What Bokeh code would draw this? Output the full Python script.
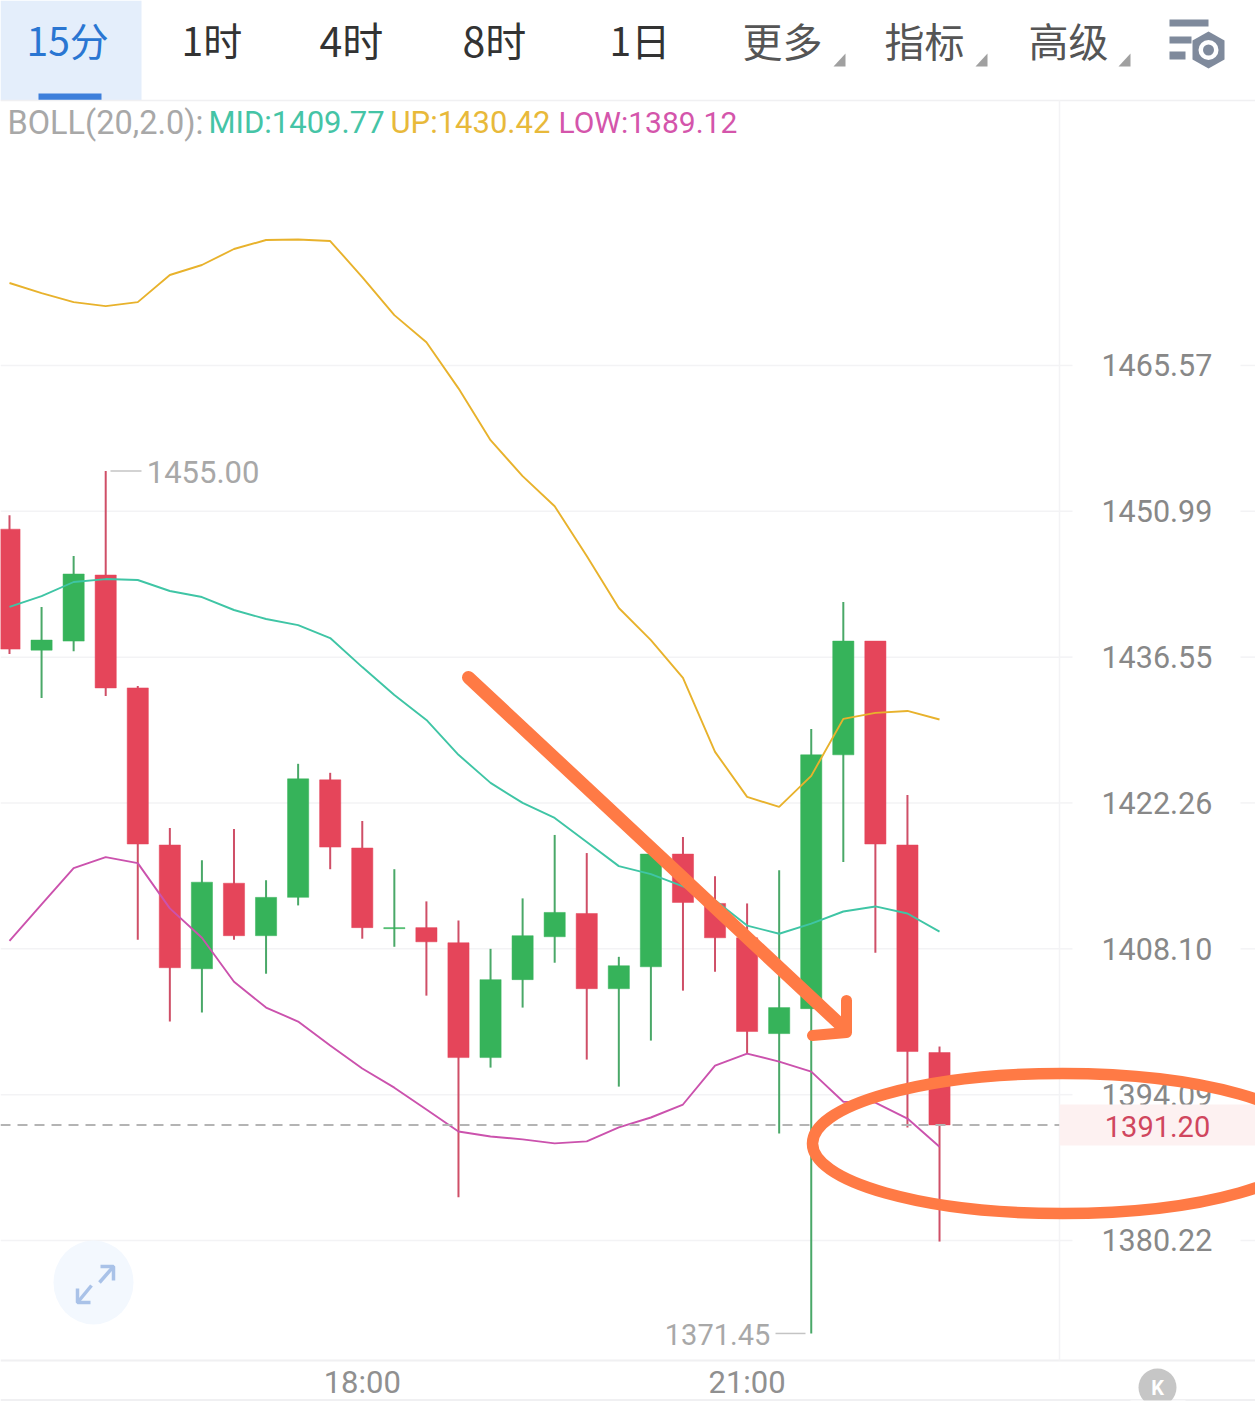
from bokeh.embed import file_html
from bokeh.resources import INLINE
from bokeh.plotting import figure
from bokeh.models import Range1d, LinearScale, FixedTicker, NumeralTickFormatter
from bokeh.core.properties import value

opens = [1449.21,1437.24,1438.13,1444.66,1433.52,1418.16,1406.18,1414.45,1409.37,1413.08,1424.51,1417.87,1410.05,1410.15,1408.69,1397.64,1405.13,1409.27,1411.52,1404.26,1406.37,1417.28,1412.49,1409.17,1399.94,1402.34,1426.96,1438.13,1418.16,1398.12]
closes = [1437.34,1438.23,1444.76,1433.52,1418.26,1406.28,1414.55,1409.37,1413.08,1424.61,1417.96,1410.15,1410.15,1408.78,1397.64,1405.13,1409.37,1411.62,1404.26,1406.47,1417.28,1412.59,1409.17,1400.14,1402.44,1426.96,1438.13,1418.26,1398.22,1391.20]
highs = [1450.59,1441.50,1446.54,1455.00,1433.71,1419.82,1416.69,1419.72,1414.74,1426.08,1425.20,1420.50,1415.81,1412.69,1410.83,1408.10,1412.98,1419.14,1417.38,1407.33,1417.38,1418.94,1415.13,1412.49,1415.72,1429.50,1441.99,1438.13,1423.04,1398.70]
lows = [1436.85,1432.54,1437.14,1432.73,1408.98,1401.10,1401.96,1408.98,1405.70,1412.30,1415.81,1409.08,1408.30,1403.59,1384.31,1396.68,1402.44,1406.76,1397.45,1394.86,1399.27,1404.07,1405.89,1398.02,1390.39,1371.45,1416.50,1407.72,1390.96,1380.12]
boll_up = [1473.88,1472.86,1471.95,1471.55,1471.95,1474.69,1475.70,1477.32,1478.23,1478.28,1478.13,1474.48,1470.64,1467.90,1463.27,1458.08,1454.49,1451.49,1446.54,1441.40,1438.23,1434.50,1427.25,1422.85,1421.87,1424.90,1430.48,1431.07,1431.26,1430.42]
boll_mid = [1441.50,1442.58,1443.97,1444.26,1444.17,1443.08,1442.48,1441.20,1440.31,1439.71,1438.43,1435.57,1432.83,1430.38,1426.96,1424.22,1422.26,1420.80,1418.45,1416.11,1415.33,1414.15,1412.79,1410.35,1409.56,1410.54,1411.71,1412.20,1411.52,1409.77]
boll_low = [1408.88,1412.40,1415.91,1416.99,1416.40,1412.01,1409.17,1404.93,1402.44,1401.10,1398.79,1396.59,1394.76,1392.67,1390.58,1390.10,1389.82,1389.44,1389.63,1390.96,1391.91,1393.15,1396.87,1398.02,1397.25,1396.29,1393.42,1393.33,1391.81,1389.12]
price_ticks = [1465.57,1450.99,1436.55,1422.26,1408.10,1394.09,1380.22]
time_ticks = {11: "18:00", 23: "21:00"}
last_price = 1391.20
period_tabs = ["15分","1时","4时","8时","1日"]
menu_tabs = ["更多","指标","高级"]

RED, GREEN = "#e5455a", "#36b35a"
idx = list(range(len(opens)))
red_i = [i for i in idx if closes[i] < opens[i]]
green_i = [i for i in idx if closes[i] >= opens[i]]

p = figure(width=1255, height=1411, output_backend="svg", toolbar_location=None,
           x_range=Range1d(-0.2806, 38.853), y_range=Range1d(1364.13, 1502.71),
           y_axis_type="log", y_axis_location="right", min_border=0,
           outline_line_color=None, background_fill_color="white", border_fill_color="white")
p.grid.visible = False
p.extra_x_ranges["px"] = Range1d(0, 1255)
p.extra_y_ranges["px"] = Range1d(1411, 0)
p.extra_x_scales["px"] = LinearScale()
p.extra_y_scales["px"] = LinearScale()

FONT = value("Roboto")
CJK = value("Noto Sans CJK SC")

def label(x, y, s, color, size, font=FONT, align="left", level="glyph", style="normal"):
    return p.text(x=[x], y=[y], text=[s], text_color=color, text_font=font, text_font_size=size,
                  text_font_style=style, text_align=align, text_baseline="middle",
                  x_range_name="px", y_range_name="px", level=level)

def shape_px(xs, ys, color):
    return p.patch(xs, ys, fill_color=color, line_color=None, x_range_name="px", y_range_name="px")

# panels and grid
p.quad(left=[0], right=[141], top=[0], bottom=[100], fill_color="#e4eefb", line_color=None,
       x_range_name="px", y_range_name="px")
p.quad(left=[38], right=[101], top=[93], bottom=[100], fill_color="#3d7fdb", line_color=None,
       x_range_name="px", y_range_name="px")
p.segment(x0=[0], x1=[1255], y0=[100], y1=[100], line_color="#f0f0f2", line_width=1.5, x_range_name="px", y_range_name="px")
p.segment(x0=[0], x1=[1255], y0=[1360], y1=[1360], line_color="#f0f0f2", line_width=2, x_range_name="px", y_range_name="px")
p.segment(x0=[1059], x1=[1059], y0=[100], y1=[1360], line_color="#f3f3f5", line_width=1.5, x_range_name="px", y_range_name="px")
p.segment(x0=[0], x1=[1255], y0=[1399.5], y1=[1399.5], line_color="#f0f0f2", line_width=2, x_range_name="px", y_range_name="px")
for t in price_ticks:
    p.segment(x0=[0, 1059, 1240], x1=[1059, 1072, 1255], y0=[t]*3, y1=[t]*3, line_color="#f3f3f5",
              line_width=1.5, x_range_name="px")

# candles
p.segment(red_i, [highs[i] for i in red_i], red_i, [lows[i] for i in red_i], line_color="#cf4f67", line_width=2)
p.segment(green_i, [highs[i] for i in green_i], green_i, [lows[i] for i in green_i], line_color="#4aa868", line_width=2)
p.vbar(red_i, width=0.66, top=[opens[i] for i in red_i], bottom=[closes[i] for i in red_i], fill_color=RED, line_color=RED, line_width=0.5)
p.vbar(green_i, width=0.66, top=[closes[i] for i in green_i], bottom=[opens[i] for i in green_i], fill_color=GREEN, line_color=GREEN, line_width=0.5)

# Bollinger lines
p.line(idx, boll_up, line_color="#e8b22c", line_width=1.9)
p.line(idx, boll_mid, line_color="#3fc5a5", line_width=1.9)
p.line(idx, boll_low, line_color="#cb52ad", line_width=1.9)

# last price
p.segment(x0=[0], x1=[1059], y0=[last_price], y1=[last_price], line_color="#b4b4b4", line_width=2,
          line_dash="10 7", x_range_name="px")

# extreme labels
p.segment(x0=[110], x1=[141], y0=[max(highs)], y1=[max(highs)], line_color="#c4c4c4", line_width=1.5, x_range_name="px")
p.segment(x0=[775], x1=[805], y0=[min(lows)], y1=[min(lows)], line_color="#c4c4c4", line_width=1.5, x_range_name="px")
p.text(x=[highs.index(max(highs))], y=[max(highs)], text=["%.2f" % max(highs)], x_offset=41, y_offset=1,
       text_color="#a8a8a8", text_font=FONT, text_font_size="31px", text_baseline="middle")
p.text(x=[lows.index(min(lows))], y=[min(lows)], text=["%.2f" % min(lows)], x_offset=-41, y_offset=1,
       text_color="#a8a8a8", text_font=FONT, text_font_size="29px", text_baseline="middle", text_align="right")

# axes
yax = p.yaxis[0]
yax.fixed_location = 32.74
yax.ticker = FixedTicker(ticks=price_ticks)
yax.formatter = NumeralTickFormatter(format="0.00")
yax.major_tick_line_color = None
yax.minor_tick_line_color = None
yax.axis_line_color = None
yax.major_label_standoff = 36
yax.major_label_text_color = "#888888"
yax.major_label_text_font = "Roboto"
yax.major_label_text_font_size = "30.5px"

xax = p.xaxis[0]
xax.fixed_location = 1369.75
xax.ticker = FixedTicker(ticks=list(time_ticks))
xax.major_label_overrides = time_ticks
xax.major_tick_line_color = None
xax.minor_tick_line_color = None
xax.axis_line_color = None
xax.major_label_standoff = 6
xax.major_label_text_color = "#909090"
xax.major_label_text_font = "Roboto"
xax.major_label_text_font_size = "31px"

# current price tag sits over the axis labels
p.quad(left=[1059], right=[1255], top=[1104], bottom=[1145], fill_color="#fdf1f1", line_color=None,
       x_range_name="px", y_range_name="px", level="overlay")
label(1157, 1126, "%.2f" % last_price, "#d0465e", "29px", align="center", level="overlay")

# header texts
tab_x = [26, 181, 319, 462, 609]
tab_c = ["#2a76d2", "#333333", "#333333", "#333333", "#333333"]
tab_f = ["39px", "39px", "41px", "41px", "39px"]
for s, x, c, f in zip(period_tabs, tab_x, tab_c, tab_f):
    label(x, 38, s, c, f, font=CJK)
for s, x, tx in zip(menu_tabs, [742, 884, 1028], [833, 975, 1118]):
    label(x, 39, s, "#555555", "40px", font=CJK)
    shape_px([tx, tx + 12, tx + 12], [66, 66, 53], "#a0a0a0")

bx = [7, 208, 390, 558]
bs = ["BOLL(20,2.0):", "MID:1409.77", "UP:1430.42", "LOW:1389.12"]
bc = ["#a8a8a8", "#45c4a6", "#e8b93a", "#d455ab"]
bf = ["32.5px", "31px", "31px", "30px"]
for x, s, c, f in zip(bx, bs, bc, bf):
    label(x, 122, s, c, f)

# settings icon
p.quad(left=[1169, 1169, 1169], right=[1208, 1191, 1185], top=[19, 36, 51], bottom=[26, 43, 59],
       fill_color="#7f8a9c", line_color=None, x_range_name="px", y_range_name="px")
shape_px([1208, 1224, 1224, 1208, 1192, 1192], [31, 40, 59, 68, 59, 40], "#7f8a9c")
p.ellipse(x=[1208], y=[49.5], width=[20], height=[20], fill_color="white", line_color=None, x_range_name="px", y_range_name="px")
p.ellipse(x=[1208], y=[49.5], width=[11], height=[11], fill_color="#7f8a9c", line_color=None, x_range_name="px", y_range_name="px")

# expand button
p.ellipse(x=[93], y=[1282], width=[80], height=[84], fill_color="#f3f8fe", line_color=None, x_range_name="px", y_range_name="px")
p.multi_line(xs=[[99, 113], [100, 113, 113], [91, 77], [77, 77, 90]],
             ys=[[1282, 1266], [1266, 1266, 1280], [1285, 1302], [1288, 1302, 1302]],
             line_color="#a9c2e8", line_width=3.5, x_range_name="px", y_range_name="px")

# K button
p.ellipse(x=[1157], y=[1387], width=[38], height=[38], fill_color="#c6c6c6", line_color=None, x_range_name="px", y_range_name="px")
label(1157, 1387, "K", "white", "20px", align="center", style="bold")
p.quad(left=[1130], right=[1185], top=[1400], bottom=[1411], fill_color="white", line_color=None,
       x_range_name="px", y_range_name="px")

# hand-drawn marks
p.line([468, 844], [677, 1028], line_color="#ff7a45", line_width=13, line_cap="round",
       x_range_name="px", y_range_name="px", level="overlay")
p.line([846, 846, 812], [1000, 1032, 1035], line_color="#ff7a45", line_width=11, line_cap="round",
       line_join="round", x_range_name="px", y_range_name="px", level="overlay")
p.ellipse(x=[1062], y=[1143], width=[500], height=[140], fill_color=None, line_color="#ff7a45", line_width=11.5,
          x_range_name="px", y_range_name="px", level="overlay")

open("out.html", "w").write(file_html(p, INLINE))
